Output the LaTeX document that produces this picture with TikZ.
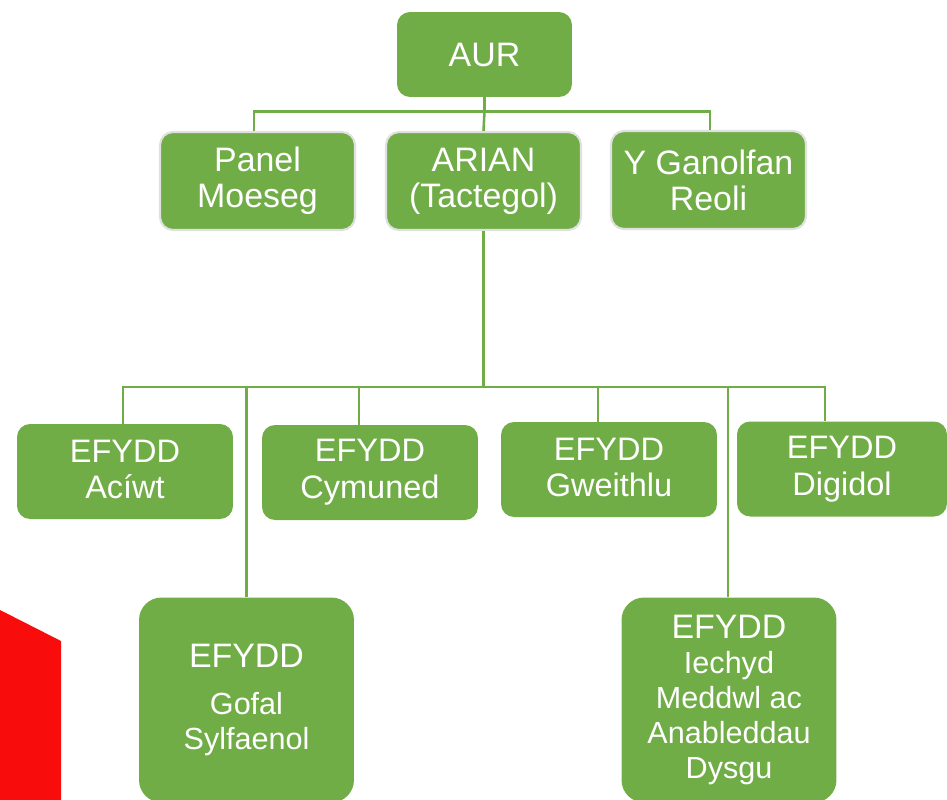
\documentclass[tikz,border=0pt]{standalone}
\usepackage{fontspec}
\setmainfont{Liberation Sans}
\usetikzlibrary{positioning, calc}
\definecolor{leafgreen}{HTML}{70AD47}
\definecolor{alertred}{HTML}{F80C0C}
\newcommand{\upstrut}{\rule{0pt}{18.5pt}}
\newcommand{\downstrut}{\rule[-2.5pt]{0pt}{2.5pt}}
\tikzstyle{basebox} = [rectangle, rounded corners=0.26cm, fill=leafgreen, text=white, align=center, inner sep=0pt]
\tikzstyle{topbox} = [basebox, minimum width=3.5cm, minimum height=1.7cm, font=\fontsize{19.3}{20.5}\selectfont]
\tikzstyle{midbox} = [basebox, draw=black!12, line width=1.2pt, minimum width=3.9cm, minimum height=1.96cm, font=\fontsize{19.3}{20.5}\selectfont]
\tikzstyle{lowbox} = [basebox, minimum width=4.32cm, minimum height=1.9cm, font=\fontsize{18.5}{21}\selectfont, execute at begin node={\upstrut}, execute at end node={\downstrut}]
\tikzstyle{tallbox} = [basebox, rounded corners=0.45cm, minimum width=4.3cm, minimum height=4.1cm, font=\fontsize{17.4}{20}\selectfont]
\tikzstyle{link} = [leafgreen, line width=1.45pt]
\newcommand{\bigtag}[1]{{\fontsize{19.3}{20}\selectfont #1}}

\begin{document}
\begin{tikzpicture}[x=0.02cm, y=-0.02cm]
        \useasboundingbox (0,0) rectangle (947,799);
        \fill[alertred] (0,610) -- (61,641) -- (61,810) -- (0,810) -- cycle;

        \node (aur) [topbox] at (484.5,54.5) {AUR};
        \node (panel) [midbox] at (257.5,181) {Panel\\Moeseg};
        \node (arian) [midbox] at (483.5,181) {ARIAN\\(Tactegol)};
        \node (ganolfan) [midbox] at (708.5,180) {Y Ganolfan\\Reoli};

        \draw [link] (aur.south) -- ++(0,14) coordinate (bus1);
        \draw [link] (bus1) -| ([xshift=-0.07cm]panel.north);
        \draw [link] (bus1) -| ([xshift=0.03cm]ganolfan.north);
        \draw [link] (bus1) -- (arian.north);

        \node (aciwt) [lowbox] at (125,471.5) {EFYDD\\Ac\'iwt};
        \node (cymuned) [lowbox] at (370,472.5) {EFYDD\\Cymuned};
        \node (gweithlu) [lowbox] at (609,469.5) {EFYDD\\Gweithlu};
        \node (digidol) [lowbox, minimum width=4.2cm] at (842,469) {EFYDD\\Digidol};
        \node (gofal) [tallbox] at (246.5,700) {\bigtag{EFYDD}\\[7pt]Gofal\\Sylfaenol};
        \node (iechyd) [tallbox] at (729,700) {\bigtag{EFYDD}\\Iechyd\\Meddwl ac\\Anableddau\\Dysgu};

        \draw [link] (arian.south) -- ++(0,156) coordinate (bus2);
        \draw [link] (bus2) -| ([xshift=-0.04cm]aciwt.north);
        \draw [link] (bus2) -| (gofal.north);
        \draw [link] (bus2) -| ([xshift=-0.22cm]cymuned.north);
        \draw [link] (bus2) -| ([xshift=-0.22cm]gweithlu.north);
        \draw [link] (bus2) -| ([xshift=-0.02cm]iechyd.north);
        \draw [link] (bus2) -| ([xshift=-0.34cm]digidol.north);
\end{tikzpicture}
\end{document}
